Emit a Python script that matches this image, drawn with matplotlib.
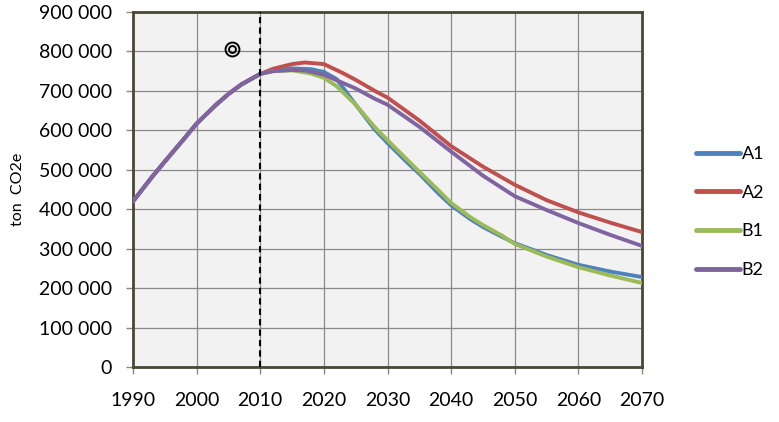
import matplotlib
matplotlib.use("Agg")
import matplotlib.pyplot as plt
from matplotlib.ticker import FuncFormatter

# ---- data ----
hist_years = [1990, 1993, 1995, 1998, 2000, 2003, 2005, 2007, 2010]
hist_vals = [420000, 482000, 521000, 578000, 617000, 664000, 692000, 716000, 743000]

a1_years = [2010, 2012, 2015, 2018, 2020, 2022, 2025, 2028, 2030, 2033, 2035, 2038, 2040,
            2043, 2045, 2048, 2050, 2055, 2060, 2065, 2070]
a1_vals = [743000, 752000, 757000, 755000, 748000, 730000, 665000, 602000, 568000, 520000,
           490000, 440000, 410000, 375000, 355000, 330000, 314000, 284000, 259000, 242000, 228000]

b1_years = a1_years
b1_vals = [743000, 750000, 752000, 744000, 733000, 712000, 665000, 608000, 575000, 527000,
           495000, 448000, 416000, 380000, 360000, 333000, 312000, 280000, 253000, 232000, 213000]

a2_years = [2010, 2012, 2015, 2017, 2020, 2023, 2025, 2028, 2030, 2035, 2040, 2045, 2050,
            2055, 2060, 2065, 2070]
a2_vals = [743000, 756000, 768000, 772000, 768000, 745000, 728000, 700000, 683000, 625000,
           560000, 508000, 462000, 423000, 392000, 366000, 342000]

b2_years = a2_years
b2_vals = [743000, 750000, 753000, 752000, 741000, 720000, 706000, 680000, 665000, 609000,
           546000, 485000, 433000, 398000, 365000, 335000, 307000]

series = [("A1", a1_years, a1_vals, "#4F81BD"),
          ("A2", a2_years, a2_vals, "#C0504D"),
          ("B1", b1_years, b1_vals, "#9BBB59"),
          ("B2", b2_years, b2_vals, "#8064A2")]

marker_x, marker_y = 2005.5, 806000
x_ticks = list(range(1990, 2071, 10))
y_ticks = list(range(0, 900001, 100000))

# ---- figure ----
plt.rcParams['font.family'] = ['Lato', 'DejaVu Sans']
fig = plt.figure(figsize=(7.79, 4.22), dpi=100)
ax = fig.add_axes([133/779, 1-367/422, (642-133)/779, (367-12)/422])
ax.set_facecolor("#F2F2F2")

for name, yrs, vals, col in series:
    ax.plot(hist_years + yrs[1:], hist_vals + vals[1:], color=col, lw=2.8,
            label=name, solid_capstyle="round", solid_joinstyle="round", zorder=3)
# purple drawn on top for the shared history part
ax.plot(hist_years, hist_vals, color="#8064A2", lw=2.8, zorder=4,
        solid_capstyle="round", solid_joinstyle="round")

ax.axvline(2010, color="black", ls=(0, (3, 2)), lw=1.5, zorder=5)
ax.plot([marker_x], [marker_y], marker="o", ms=10, mfc="none", mec="black", mew=1.4, zorder=6)
ax.plot([marker_x], [marker_y], marker="o", ms=5, mfc="none", mec="black", mew=1.4, zorder=6)

ax.set_xlim(1990, 2070)
ax.set_ylim(0, 900000)
ax.set_xticks(x_ticks)
ax.set_yticks(y_ticks)
ax.yaxis.set_major_formatter(FuncFormatter(lambda v, p: f"{int(v):,}".replace(",", " ")))
ax.grid(True, color="#8A8A8A", lw=0.9, zorder=0)
ax.set_axisbelow(True)
for s in ax.spines.values():
    s.set_color("#4A4733")
    s.set_linewidth(2.0)
ax.tick_params(axis="both", direction="out", length=5, width=1, color="#888888",
               labelsize=14, labelcolor="black")
ax.tick_params(axis="x", pad=13)
ax.tick_params(axis="y", pad=10)
ax.set_ylabel("ton  CO2e", fontsize=11.5, labelpad=0)
ax.yaxis.set_label_coords(-(133 - 25) / (642 - 133), (367 - 189) / (367 - 12))

leg = fig.legend(loc="upper left", bbox_to_anchor=(696/779, 1-146/422), frameon=False,
                 fontsize=13, handlelength=2.45, handletextpad=0.08, labelspacing=1.26,
                 borderpad=0, borderaxespad=0)
for line in leg.get_lines():
    line.set_linewidth(3.5)

fig.savefig("out.png", dpi=100)
